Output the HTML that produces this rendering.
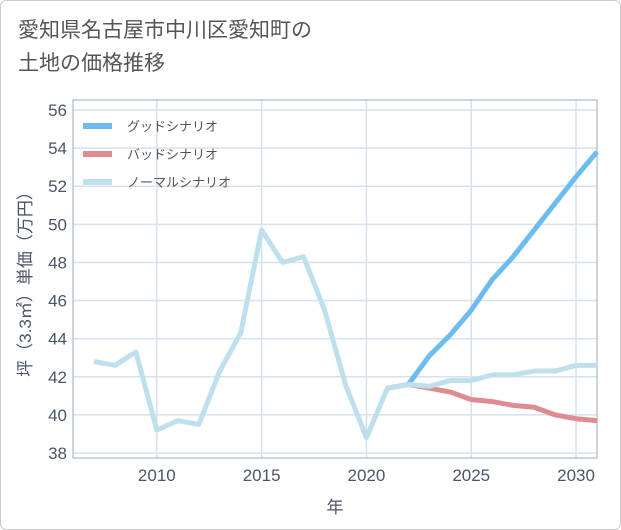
<!DOCTYPE html>
<html><head><meta charset="utf-8">
<style>
html,body{margin:0;padding:0;background:#fff;}
#card{position:absolute;left:0;top:0;width:619px;height:528px;border:1px solid #ccc;border-radius:6px;background:#fff;}
#title{position:absolute;left:18px;top:14px;font:21px/33px "Liberation Sans","Noto Sans CJK JP",sans-serif;color:#555;}
svg{position:absolute;left:0;top:0;}
text{font-family:"Liberation Sans","Noto Sans CJK JP",sans-serif;}
</style></head><body>
<div id="card"></div>
<div id="title">愛知県名古屋市中川区愛知町の<br>土地の価格推移</div>
<svg id="chart" width="621" height="530"></svg>
<script>
const years=[2007,2008,2009,2010,2011,2012,2013,2014,2015,2016,2017,2018,2019,2020,2021,2022,2023,2024,2025,2026,2027,2028,2029,2030,2031];
const normalVals=[42.8,42.6,43.3,39.2,39.7,39.5,42.3,44.3,49.7,48.0,48.3,45.5,41.6,38.8,41.4,41.6,41.5,41.8,41.8,42.1,42.1,42.3,42.3,42.6,42.6];
const forecastYears=[2021,2022,2023,2024,2025,2026,2027,2028,2029,2030,2031];
const goodVals=[41.4,41.6,43.1,44.2,45.5,47.1,48.3,49.7,51.1,52.5,53.8];
const badVals=[41.4,41.6,41.4,41.2,40.8,40.7,40.5,40.4,40.0,39.8,39.7];
const yTicks=[38,40,42,44,46,48,50,52,54,56];
const xTicks=[2010,2015,2020,2025,2030];
const legendLabels=["グッドシナリオ","バッドシナリオ","ノーマルシナリオ"];

const L=73,R=597,T=100,B=458;
const x=v=>L+(v-2006)/(2031-2006)*(R-L);
const y=v=>453-(v-38)/(56-38)*(453-110);
const svg=document.getElementById('chart');
const NS='http://www.w3.org/2000/svg';
function mk(t,a){const e=document.createElementNS(NS,t);for(const k in a)e.setAttribute(k,a[k]);svg.appendChild(e);return e;}

for(const t of yTicks){
  const g=mk('line',{x1:L,x2:R,y1:y(t),y2:y(t),stroke:'#d3e2ee','stroke-width':1.5});
  
  
  const tx=mk('text',{x:L-6,y:y(t)+6,'text-anchor':'end','font-size':17,fill:'#4a5568'});
  tx.textContent=t;
  
  
}
for(const t of xTicks){
  const g=mk('line',{x1:x(t),x2:x(t),y1:T,y2:B,stroke:'#d3e2ee','stroke-width':1.5});
  
  
  const tx=mk('text',{x:x(t),y:B+23,'text-anchor':'middle','font-size':17,fill:'#4a5568'});
  tx.textContent=t;
  
  
}
const frame=mk('rect',{x:L,y:T,width:R-L,height:B-T,fill:'none',stroke:'#9aa8b8','stroke-width':1});



function line(xs,vs,color,name){
  const p=mk('polyline',{points:xs.map((v,i)=>x(v)+','+y(vs[i])).join(' '),fill:'none',stroke:color,'stroke-width':5,'stroke-linejoin':'round'});
  
  
}
line(forecastYears,goodVals,'#6cbcf0','good-scenario-line');
line(forecastYears,badVals,'#de8c92','bad-scenario-line');
line(years,normalVals,'#bde0ec','normal-scenario-line');

const colors=['#6cbcf0','#de8c92','#bde0ec'];
legendLabels.forEach((lab,i)=>{
  const yy=126+i*28;
  const l=mk('line',{x1:83,x2:112,y1:yy,y2:yy,stroke:colors[i],'stroke-width':6});
  
  
  const t=mk('text',{x:127,y:yy+5,'font-size':13,fill:'#555'});
  t.textContent=lab;
  
  
});

const xt=mk('text',{x:(L+R)/2,y:513,'text-anchor':'middle','font-size':17,fill:'#4a5568'});
xt.textContent='年';


const yt=mk('text',{x:0,y:0,'text-anchor':'middle','font-size':17,fill:'#4a5568',transform:'translate(31,280) rotate(-90)'});
yt.textContent='坪（3.3㎡）単価（万円）';


</script>
</body></html>
